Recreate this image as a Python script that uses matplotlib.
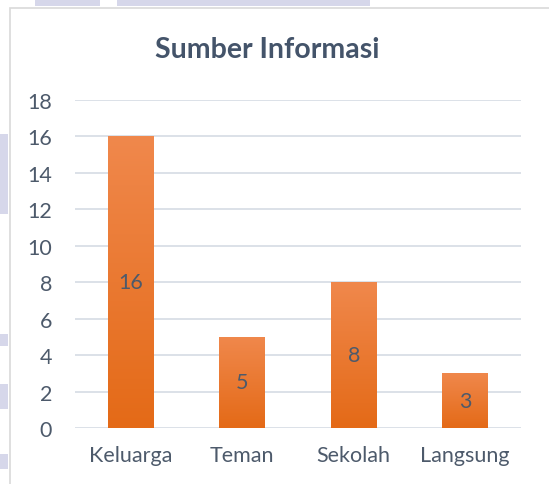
import numpy as np
import matplotlib
matplotlib.use("Agg")
import matplotlib.pyplot as plt
from matplotlib.patches import Rectangle
from matplotlib.colors import LinearSegmentedColormap

categories = ["Keluarga", "Teman", "Sekolah", "Langsung"]
values = [16, 5, 8, 3]
yticks = [0, 2, 4, 6, 8, 10, 12, 14, 16, 18]

TITLE_COLOR = "#44546A"
TEXT_COLOR = "#4D5A6B"
GRID_COLOR = "#D9DEE6"

plt.rcParams["font.family"] = ["Lato", "DejaVu Sans"]

W, H = 549, 485
fig = plt.figure(figsize=(W / 100, H / 100), dpi=100)
fig.patch.set_facecolor("white")

# page artefacts around the chart (scanned look)
lav = "#D6D7EA"
for x0, y0, w, h in [(35, 0, 65, 7), (117, 0, 253, 7), (0, 135, 8, 80),
                     (0, 335, 8, 12), (0, 385, 8, 25), (0, 455, 8, 15)]:
    fig.patches.append(Rectangle((x0 / W, 1 - (y0 + h) / H), w / W, h / H,
                                 transform=fig.transFigure, color=lav,
                                 lw=0, zorder=0))
# chart border
fig.patches.append(Rectangle((10 / W, -0.01), 1.0, 1 - 9 / H + 0.01,
                             transform=fig.transFigure, fill=False,
                             ec="#D9D9D9", lw=1.2, zorder=1))

ax = fig.add_axes([75 / W, 1 - 429 / H, (521 - 75) / W, (429 - 101) / H])
ax.set_facecolor("none")

x = np.arange(len(categories))
bars = ax.bar(x, values, width=0.41, color="none", zorder=2)

# vertical orange gradient, lighter at the top
cmap = LinearSegmentedColormap.from_list("og", ["#E46A17", "#F0884C"])
grad = np.linspace(0, 1, 256).reshape(-1, 1)
for b, v in zip(bars, values):
    im = ax.imshow(grad, cmap=cmap, origin="lower", aspect="auto",
                   extent=[b.get_x(), b.get_x() + b.get_width(), 0, v],
                   zorder=2)
    im.set_clip_path(b)
    ax.text(b.get_x() + b.get_width() / 2, v / 2, str(v), ha="center",
            va="center", fontsize=15.5, color=TEXT_COLOR, zorder=3)

ax.set_xlim(-0.5, len(categories) - 0.5)
ax.set_ylim(0, 18)
ax.set_yticks(yticks)
ax.set_xticks(x)
ax.set_xticklabels(categories)
ax.yaxis.grid(True, color=GRID_COLOR, lw=1.3, zorder=0)
ax.set_axisbelow(True)
for s in ax.spines.values():
    s.set_visible(False)
ax.tick_params(length=0, labelsize=15.5, labelcolor=TEXT_COLOR)
ax.tick_params(axis="y", pad=16.5)
ax.tick_params(axis="x", pad=12)
for t in ax.get_yticklabels():
    t.set_horizontalalignment("right")

fig.text(267 / W, 1 - 50 / H, "Sumber Informasi", ha="center", va="center",
         fontsize=20.5, fontweight="bold", color=TITLE_COLOR)

fig.savefig("out.png", dpi=100)
